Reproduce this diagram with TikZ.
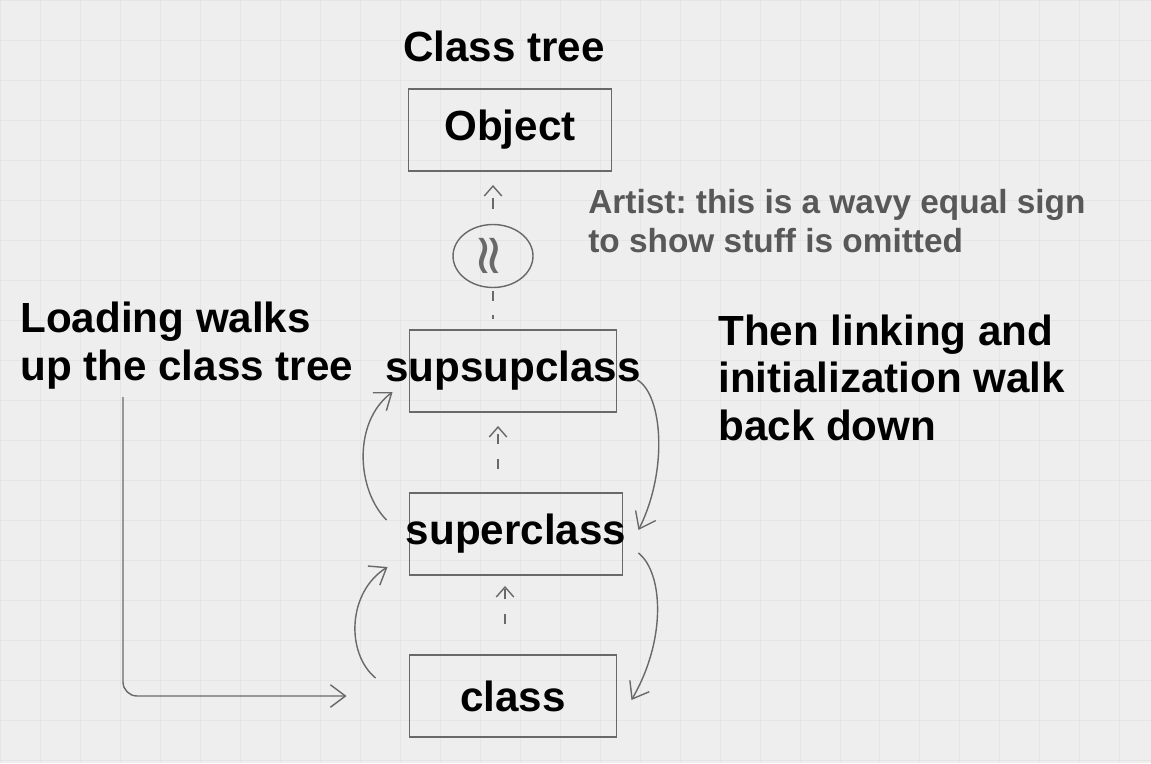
\documentclass[tikz,border=0pt]{standalone}
\usepackage{fontspec}
\setmainfont{Liberation Sans}
\newfontfamily\symfont{DejaVu Sans}
\usetikzlibrary{arrows.meta,shapes.geometric}

\definecolor{paper}{RGB}{238,238,238}
\definecolor{rule}{RGB}{229,229,229}
\definecolor{pencil}{RGB}{105,105,105}
\definecolor{note}{RGB}{88,88,88}

\begin{document}
\begin{tikzpicture}[x=0.02cm, y=-0.02cm,
    box/.style={draw=pencil, line width=1.1pt, minimum width=4.14cm, minimum height=1.64cm, inner sep=0pt},
    boxtext/.style={font=\fontsize{24}{27}\selectfont\bfseries},
    bigtext/.style={font=\fontsize{24}{27}\selectfont\bfseries\frenchspacing, align=left, anchor=base west, inner sep=0pt},
    notetext/.style={font=\fontsize{19}{22.7}\selectfont\bfseries\frenchspacing, text=note, align=left, anchor=base west, inner sep=0pt},
    walk/.style={draw=pencil, line width=0.8pt, -{Straight Barb[length=3mm, width=4.5mm]}},
    upline/.style={draw=pencil, line width=0.8pt, dash pattern=on 6pt off 8pt}]
    \useasboundingbox (0,0) rectangle (1151,763);
    \fill[paper] (0,0) rectangle (1151,763);
    \draw[rule, step=0.8cm] (0,0) grid (1151,763);

    \node[box, minimum width=4.06cm, label={[boxtext]center:Object}] (object) at (510,130) {};
    \node[box, label={[boxtext]center:supsupclass}] (supsup) at (513,371) {};
    \node[box, minimum width=4.26cm, label={[boxtext]center:superclass}] (super) at (516,534) {};
    \node[box, label={[boxtext]center:class}] (class) at (513,696) {};

    \node[ellipse, draw=pencil, line width=0.8pt, minimum width=1.6cm, minimum height=1.26cm] (omit) at (493,256) {};
    \node[rotate=90, text=pencil, font=\symfont\fontsize{32}{32}\selectfont, inner sep=0pt] (wavy) at (omit) {≈};

    % up the tree, dashed
    \draw[upline, -{Straight Barb[length=2mm, width=3.5mm]}, shorten <=0.3cm, shorten >=0.26cm] (omit.north) -- (omit.north |- object.south);
    \draw[upline, shorten <=0.05cm, shorten >=0.2cm] (omit.south) -- (omit.south |- supsup.north);
    \draw[upline, -{Straight Barb[length=2mm, width=3.5mm]}, shorten <=0.46cm, shorten >=0.26cm] ([xshift=-0.36cm]super.north) -- ([xshift=-0.36cm]super.north |- supsup.south);
    \draw[upline, -{Straight Barb[length=2mm, width=3.5mm]}, shorten <=0.6cm, shorten >=0.2cm] ([xshift=-0.16cm]class.north) -- ([xshift=-0.16cm]class.north |- super.south);

    % loading goes up
    \coordinate (down) at (123,397);
    \draw[walk, rounded corners=8pt] (down) |- ([xshift=-1.24cm]class.west);
    \draw[walk] ([shift={(-33,-18)}]class.west) .. controls +(-30,-25) and +(-40,25) .. ([shift={(-21,33)}]super.west);
    \draw[walk] ([shift={(-22,-14)}]super.west) .. controls +(-30,-30) and +(-40,30) .. ([shift={(-16,21)}]supsup.west);

    % linking and init come back down
    \draw[walk] ([shift={(20,9)}]supsup.east) .. controls +(25,15) and +(30,-60) .. ([shift={(15,-4)}]super.east);
    \draw[walk] ([shift={(15,19)}]super.east) .. controls +(25,20) and +(35,-60) .. ([shift={(14,4)}]class.east);

    \node[bigtext] (title) at (403,62) {Class tree};
    \node[bigtext] (loading) at (20,380) {Loading walks\\up the class tree};
    \node[bigtext] (linking) at (718,440) {Then linking and\\initialization walk\\back down};
    \node[notetext] (artist) at (588,253) {Artist: this is a wavy equal sign\\to show stuff is omitted};
\end{tikzpicture}
\end{document}
